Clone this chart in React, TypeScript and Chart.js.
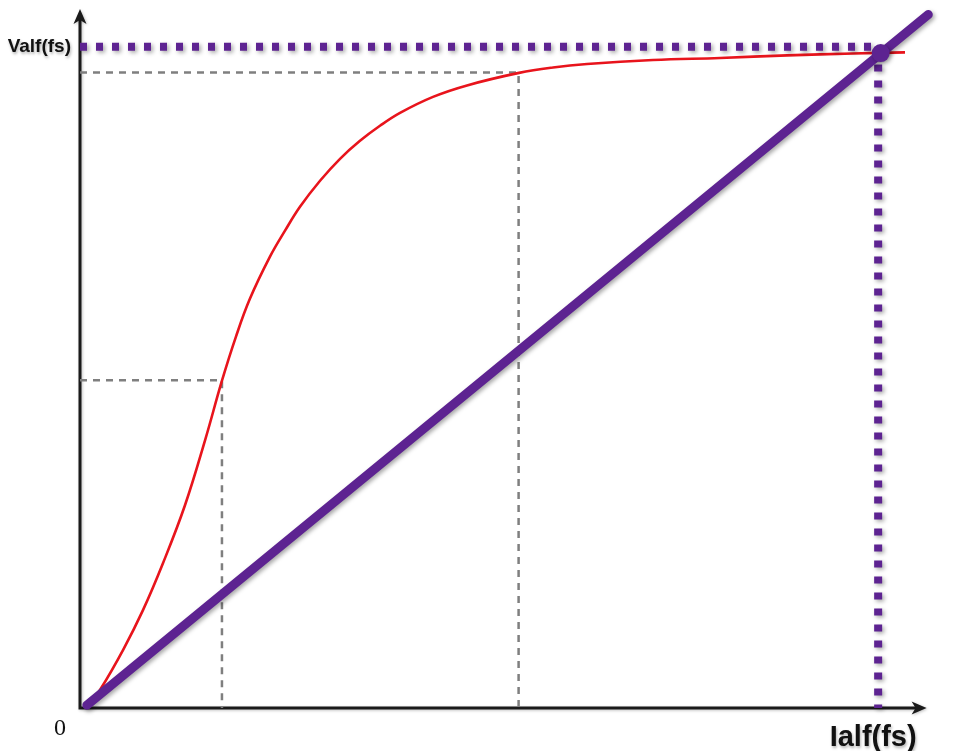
import React, { useEffect, useRef } from "react";
import { Chart, registerables } from "chart.js";

Chart.register(...registerables);

// ---- data (abstract units, 0..100 on both axes) ----
const xLabel = "Ialf(fs)";
const yLabel = "Valf(fs)";
const originLabel = "0";

const redX = [0.82, 2.35, 5.06, 7.41, 9.76, 12.35, 14.71, 16.71, 18.35, 20.0, 22.35, 24.12, 25.88, 28.24, 30.59, 32.94, 35.29, 37.65, 41.53, 45.53, 51.65, 55.65, 59.65, 67.41, 75.29, 83.18, 90.94, 97.06];
const redY = [0, 2.57, 8.29, 14.0, 20.71, 29.0, 38.29, 46.86, 53.14, 58.57, 64.57, 68.29, 71.71, 75.43, 78.57, 81.14, 83.29, 85.14, 87.43, 89.07, 90.86, 91.64, 92.14, 92.71, 93.0, 93.36, 93.64, 93.79];

const loadX = [0.8, 99.8];
const loadY = [0.4, 99.2];

const opX = 94.2;
const opY = 93.7;

const guideMaxX = 93.9;
const guideMaxY = 94.6;

const guide1X = 16.7;
const guide1Y = 46.9;
const guide2X = 51.6;
const guide2Y = 90.9;

const xAxisEnd = 99.6;
const yAxisEnd = 100;

const pts = (xs: number[], ys: number[]) => xs.map((x, i) => ({ x, y: ys[i] }));

const PURPLE = "#5d2391";
const RED = "#e8141c";
const GREY = "#7f7f7f";

const shadowPlugin = {
  id: "shadowPlugin",
  beforeDatasetDraw(chart: any, args: any) {
    const ds = chart.data.datasets[args.index];
    if (ds.shadow) {
      const ctx = chart.ctx;
      ctx.save();
      ctx.shadowColor = "rgba(0,0,0,0.35)";
      ctx.shadowBlur = 4;
      ctx.shadowOffsetX = 2;
      ctx.shadowOffsetY = 2;
    }
  },
  afterDatasetDraw(chart: any, args: any) {
    const ds = chart.data.datasets[args.index];
    if (ds.shadow) chart.ctx.restore();
  },
};

const axesPlugin = {
  id: "axesPlugin",
  beforeDatasetsDraw(chart: any) {
    const ctx = chart.ctx;
    const xs = chart.scales.x;
    const ys = chart.scales.y;
    const x0 = xs.getPixelForValue(0);
    const y0 = ys.getPixelForValue(0);
    const xEnd = xs.getPixelForValue(xAxisEnd);
    const yEnd = ys.getPixelForValue(yAxisEnd);
    ctx.save();
    ctx.shadowColor = "rgba(0,0,0,0.25)";
    ctx.shadowBlur = 3;
    ctx.shadowOffsetX = 1;
    ctx.shadowOffsetY = 1;
    ctx.strokeStyle = "#1a1a1a";
    ctx.fillStyle = "#1a1a1a";
    ctx.lineWidth = 3;
    ctx.beginPath();
    ctx.moveTo(x0, y0);
    ctx.lineTo(xEnd - 10, y0);
    ctx.moveTo(x0, y0 + 1.5);
    ctx.lineTo(x0, yEnd + 10);
    ctx.stroke();
    // arrowheads
    ctx.beginPath();
    ctx.moveTo(xEnd, y0);
    ctx.lineTo(xEnd - 15, y0 - 6.5);
    ctx.lineTo(xEnd - 11, y0);
    ctx.lineTo(xEnd - 15, y0 + 6.5);
    ctx.closePath();
    ctx.fill();
    ctx.beginPath();
    ctx.moveTo(x0, yEnd);
    ctx.lineTo(x0 - 6.5, yEnd + 15);
    ctx.lineTo(x0, yEnd + 11);
    ctx.lineTo(x0 + 6.5, yEnd + 15);
    ctx.closePath();
    ctx.fill();
    ctx.restore();
  },
  afterDraw(chart: any) {
    const ctx = chart.ctx;
    const xs = chart.scales.x;
    const ys = chart.scales.y;
    const x0 = xs.getPixelForValue(0);
    const y0 = ys.getPixelForValue(0);
    ctx.save();
    ctx.shadowColor = "rgba(0,0,0,0.3)";
    ctx.shadowBlur = 3;
    ctx.shadowOffsetX = 1;
    ctx.shadowOffsetY = 2;
    ctx.fillStyle = "#111";
    ctx.textBaseline = "middle";
    ctx.textAlign = "right";
    ctx.font = "bold 19px 'Liberation Sans', Arial, sans-serif";
    ctx.fillText(yLabel, x0 - 9, ys.getPixelForValue(guideMaxY));
    ctx.textAlign = "center";
    ctx.font = "bold 29px 'Liberation Sans', Arial, sans-serif";
    ctx.fillText(xLabel, xs.getPixelForValue(guideMaxX) - 5, y0 + 30);
    ctx.shadowColor = "rgba(0,0,0,0)";
    ctx.font = "24px 'Liberation Serif', 'Times New Roman', serif";
    ctx.fillText(originLabel, x0 - 20, y0 + 21);
    ctx.restore();
  },
};

export default function App() {
  const ref = useRef<HTMLCanvasElement | null>(null);
  useEffect(() => {
    if (!ref.current) return;
    const chart = new Chart(ref.current, {
      type: "line",
      data: {
        datasets: [
          {
            label: "op",
            data: [{ x: opX, y: opY }],
            showLine: false,
            pointRadius: 9,
            pointBackgroundColor: PURPLE,
            pointBorderColor: PURPLE,
            pointBorderWidth: 0,
            order: 0,
            shadow: true,
          } as any,
          {
            label: "load",
            data: pts(loadX, loadY),
            borderColor: PURPLE,
            borderWidth: 9,
            borderCapStyle: "round",
            pointRadius: 0,
            order: 1,
            shadow: true,
          } as any,
          {
            label: "max",
            data: [
              { x: 0, y: guideMaxY },
              { x: guideMaxX, y: guideMaxY },
              { x: guideMaxX, y: 0 },
            ],
            borderColor: PURPLE,
            borderWidth: 8,
            borderDash: [7, 9],
            borderCapStyle: "butt",
            pointRadius: 0,
            order: 2,
            shadow: true,
          } as any,
          {
            label: "curve",
            data: pts(redX, redY),
            borderColor: RED,
            borderWidth: 2.6,
            tension: 0.4,
            pointRadius: 0,
            order: 3,
          } as any,
          {
            label: "g1",
            data: [
              { x: 0, y: guide1Y },
              { x: guide1X, y: guide1Y },
              { x: guide1X, y: 0 },
            ],
            borderColor: GREY,
            borderWidth: 2.5,
            borderDash: [7, 6],
            pointRadius: 0,
            order: 4,
          } as any,
          {
            label: "g2",
            data: [
              { x: 0, y: guide2Y },
              { x: guide2X, y: guide2Y },
              { x: guide2X, y: 0 },
            ],
            borderColor: GREY,
            borderWidth: 2.5,
            borderDash: [7, 6],
            pointRadius: 0,
            order: 4,
          } as any,
        ],
      },
      options: {
        responsive: false,
        animation: false,
        clip: false as any,
        layout: { padding: { left: 80, right: 26, top: 8, bottom: 43 } },
        plugins: { legend: { display: false }, tooltip: { enabled: false } },
        scales: {
          x: { type: "linear", min: 0, max: 100, display: false },
          y: { type: "linear", min: 0, max: 100, display: false },
        },
      },
      plugins: [shadowPlugin, axesPlugin],
    });
    return () => chart.destroy();
  }, []);
  return (
    <div style={{ position: "fixed", left: 0, top: 0, width: 956, height: 751, background: "#fff" }}>
      <canvas ref={ref} width={956} height={751} style={{ display: "block" }} />
    </div>
  );
}
